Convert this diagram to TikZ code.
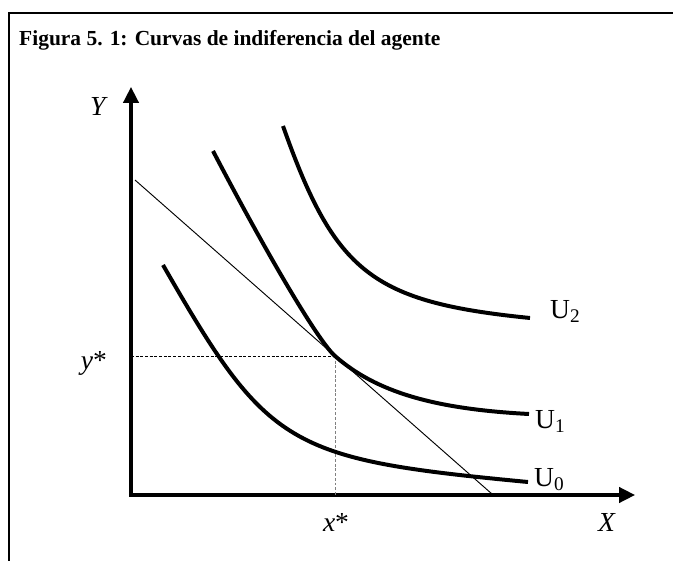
\documentclass[tikz,border=0pt]{standalone}
\usepackage{fontspec}
\setmainfont{Liberation Serif}
\usetikzlibrary{arrows.meta}

\begin{document}
\begin{tikzpicture}[x=0.03cm,y=-0.03cm,frame/.style={line width=1.7pt},axis/.style={line width=2.6pt,{Triangle[length=13.5pt,width=13pt]}-{Triangle[length=13.5pt,width=13pt]}},curve/.style={line width=3.4pt},budget/.style={line width=0.8pt},guide/.style={line width=0.85pt,dash pattern=on 2.5pt off 1.5pt},lab/.style={font=\fontsize{23.5}{28}\selectfont,inner sep=0pt},ulab/.style={lab,anchor=base west}]
\useasboundingbox (0,0) rectangle (673,560);
\draw[frame] (690,13) -- (9,13) -- (9,580);
\node[font=\fontsize{18.3}{22}\selectfont\bfseries, anchor=base west, inner sep=0pt] (title) at (19,45){Figura 5. 1: Curvas de indiferencia del agente};
% axes
\coordinate (origin) at (131,495);
\coordinate (ytip) at (131,87);
\coordinate (xtip) at (635,495);
\draw[axis] (ytip) -- (origin) -- (xtip);
\node[lab, anchor=base east] (ylab) at (108,115){\textit{Y}};
\node[lab, anchor=base] (xlab) at (607,531){\textit{X}};
% budget line and optimum
\coordinate (b1) at (135,180);
\coordinate (b2) at (492,494);
\coordinate (eq) at (335,356);
\coordinate (ystar) at (131,356);
\coordinate (xstar) at (335,495);
\draw[budget] (b1) -- (b2);
\draw[guide] (ystar) -- (eq);
\draw[guide, gray] (eq) -- (xstar);
\node[lab, anchor=base east] (ystarlab) at (107,369){\textit{y}*};
\node[lab, anchor=base] (xstarlab) at (336,531){\textit{x}*};
% indifference curves
\coordinate (u0start) at (163,265);
\coordinate (u0end) at (528,482);
\coordinate (u1start) at (213,151);
\coordinate (u1end) at (529,414);
\coordinate (u2start) at (283,126);
\coordinate (u2end) at (530,318);
\draw[curve] (u0start) .. controls (268,448) and (287,459) .. (u0end);
\draw[curve] (u1start) .. controls (270,260) and (319,342) .. (eq) .. controls (376,392) and (434,409) .. (u1end);
\draw[curve] (u2start) .. controls (335,273) and (372,302) .. (u2end);
\node[ulab] (u0) at (534,486){U\textsubscript{0}};
\node[ulab] (u1) at (535,428){U\textsubscript{1}};
\node[ulab] (u2) at (550,318){U\textsubscript{2}};
\end{tikzpicture}
\end{document}
